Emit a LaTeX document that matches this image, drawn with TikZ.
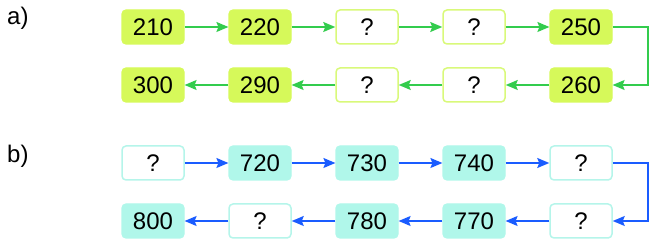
\documentclass[tikz,border=0pt]{standalone}
\usepackage{fontspec}
\setmainfont{Liberation Sans}
\usetikzlibrary{arrows.meta}
\definecolor{limefill}{HTML}{D6F95A}
\definecolor{limeline}{HTML}{D9F97A}
\definecolor{greenarrow}{HTML}{33CC4D}
\definecolor{cyanfill}{HTML}{B0F7EA}
\definecolor{cyanline}{HTML}{B5F5EA}
\definecolor{bluearrow}{HTML}{1A5CFF}
\tikzset{
  box/.style={minimum width=62pt, minimum height=34pt, rounded corners=4pt, inner sep=0pt,
    font=\fontsize{24}{28}\selectfont, text=black},
  afill/.style={box, fill=limefill, draw=limefill, line width=1.2pt},
  aempty/.style={box, fill=white, draw=limeline, line width=1.5pt},
  bfill/.style={box, fill=cyanfill, draw=cyanfill, line width=1.2pt},
  bempty/.style={box, fill=white, draw=cyanline, line width=1.5pt},
  garr/.style={draw=greenarrow, line width=1.4pt, -{Stealth[length=12pt,width=10pt,inset=2pt]}},
  barr/.style={draw=bluearrow, line width=1.4pt, -{Stealth[length=12pt,width=10pt,inset=2pt]}},
  lbl/.style={font=\fontsize{24}{28}\selectfont, anchor=west, inner sep=0pt}
}
\begin{document}
\begin{tikzpicture}[x=1pt,y=1pt]
\useasboundingbox (0,0) rectangle (658,246);
\node[lbl] (la) at (7,228) {a)};
\node[lbl] (lb) at (7,90) {b)};
% row a top
\node[afill] (a1) at (153,219) {210};
\node[afill] (a2) at (260,219) {220};
\node[aempty] (a3) at (367,219) {?};
\node[aempty] (a4) at (474,219) {?};
\node[afill] (a5) at (581,219) {250};
% row a bottom
\node[afill] (a6) at (581,161) {260};
\node[aempty] (a7) at (474,161) {?};
\node[aempty] (a8) at (367,161) {?};
\node[afill] (a9) at (260,161) {290};
\node[afill] (a10) at (153,161) {300};
\coordinate (ca) at (648,219);
\draw[garr] (a1) -- (a2);
\draw[garr] (a2) -- (a3);
\draw[garr] (a3) -- (a4);
\draw[garr] (a4) -- (a5);
\draw[garr] (a5.east) -- (ca) |- (a6.east);
\draw[garr] (a6) -- (a7);
\draw[garr] (a7) -- (a8);
\draw[garr] (a8) -- (a9);
\draw[garr] (a9) -- (a10);
% row b top
\node[bempty] (b1) at (153,83) {?};
\node[bfill] (b2) at (260,83) {720};
\node[bfill] (b3) at (367,83) {730};
\node[bfill] (b4) at (474,83) {740};
\node[bempty] (b5) at (581,83) {?};
% row b bottom
\node[bempty] (b6) at (581,25) {?};
\node[bfill] (b7) at (474,25) {770};
\node[bfill] (b8) at (367,25) {780};
\node[bempty] (b9) at (260,25) {?};
\node[bfill] (b10) at (153,25) {800};
\coordinate (cb) at (648,83);
\draw[barr] (b1) -- (b2);
\draw[barr] (b2) -- (b3);
\draw[barr] (b3) -- (b4);
\draw[barr] (b4) -- (b5);
\draw[barr] (b5.east) -- (cb) |- (b6.east);
\draw[barr] (b6) -- (b7);
\draw[barr] (b7) -- (b8);
\draw[barr] (b8) -- (b9);
\draw[barr] (b9) -- (b10);
\end{tikzpicture}
\end{document}
